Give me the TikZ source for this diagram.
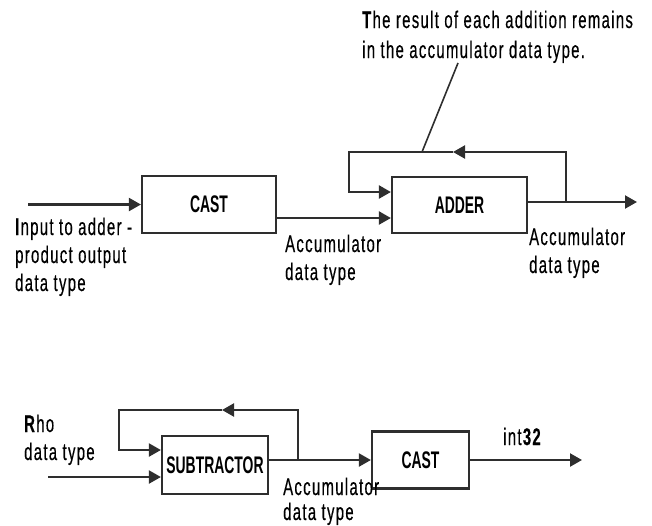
\documentclass[tikz,border=0pt]{standalone}
\usepackage{fontspec}
\usetikzlibrary{arrows.meta}
\newfontfamily\lblfont[FakeStretch=0.62,LetterSpace=5.5,FakeBold=0.4]{Liberation Sans}
\newfontfamily\boxfont[FakeStretch=0.58]{Liberation Sans}
\colorlet{ln}{black!82}
\tikzset{
  lbl/.style={anchor=base west, inner sep=0pt, font=\lblfont\fontsize{24}{28}\selectfont, text=black},
  blk/.style={draw=ln, line width=2.2pt, minimum width=#1, inner sep=0pt, font=\boxfont\bfseries\fontsize{24}{28}\selectfont, text=black},
  wire/.style={draw=ln, line width=2.2pt},
  arr/.style={wire, -{Triangle[length=12pt,width=13pt]}},
}
\begin{document}
\begin{tikzpicture}[x=1pt,y=-1pt]
\useasboundingbox (0,0) rectangle (652,525);
% ---------- top diagram ----------
\node[blk=134pt, minimum height=57pt] (cast1) at (209,204.5) {CAST};
\node[blk=135pt, minimum height=56pt] (adder) at (459.5,205) {ADDER};
\coordinate (inA) at (28,204.5);
\coordinate (yA) at (0,218);
\coordinate (yB) at (0,192);
\coordinate (tapA) at (566,202);
\coordinate (outA) at (637,202);
\coordinate (fbTopR) at (566,152);
\coordinate (fbMid) at (453,152);
\coordinate (fbL) at (349,192);
\coordinate (noteA) at (422,152);
\coordinate (noteB) at (458,63);
\draw[arr] (inA) -- (cast1.west);
\draw[arr] (cast1.east |- yA) -- (adder.west |- yA);
\draw[arr] (adder.east |- tapA) -- (outA);
\draw[arr] (tapA) -- (fbTopR) -- (fbMid);
\draw[arr] (fbMid) -| (fbL) -- (adder.west |- yB);
\draw[wire, line width=1.6pt] (noteA) -- (noteB);
\node[lbl] (n1) at (362,28) {\textbf{T}he result of each addition remains};
\node[lbl] (n2) at (362,58) {in the accumulator data type.};
\node[lbl] (i1) at (15,235) {\textbf{I}nput to adder -};
\node[lbl] (i2) at (15,263) {product output};
\node[lbl] (i3) at (15,291) {data type};
\node[lbl] (a1) at (285,252) {Accumulator};
\node[lbl] (a2) at (285,280) {data type};
\node[lbl] (b1) at (529,245) {Accumulator};
\node[lbl] (b2) at (529,273) {data type};
% ---------- bottom diagram ----------
\node[blk=106pt, minimum height=58pt] (sub) at (215,465) {SUBTRACTOR};
\node[blk=97pt, minimum height=57pt] (cast2) at (420.5,460) {CAST};
\coordinate (yC) at (0,460);
\coordinate (yD) at (0,450);
\coordinate (inB) at (48,477);
\coordinate (tapB) at (298,460);
\coordinate (fbTopR2) at (298,410);
\coordinate (fbMid2) at (222,410);
\coordinate (fbL2) at (119,450);
\coordinate (outB) at (582,460);
\draw[arr] (inB) -- (sub.west |- inB);
\draw[arr] (sub.east |- yC) -- (cast2.west);
\draw[arr] (tapB) -- (fbTopR2) -- (fbMid2);
\draw[arr] (fbMid2) -| (fbL2) -- (sub.west |- yD);
\draw[arr] (cast2.east) -- (outB);
\node[lbl] (r1) at (24,432) {\textbf{R}ho};
\node[lbl] (r2) at (24,460) {data type};
\node[lbl] (c1) at (283,495) {Accumulator};
\node[lbl] (c2) at (283,520) {data type};
\node[lbl] (t1) at (503,445) {int\textbf{32}};
\end{tikzpicture}
\end{document}
